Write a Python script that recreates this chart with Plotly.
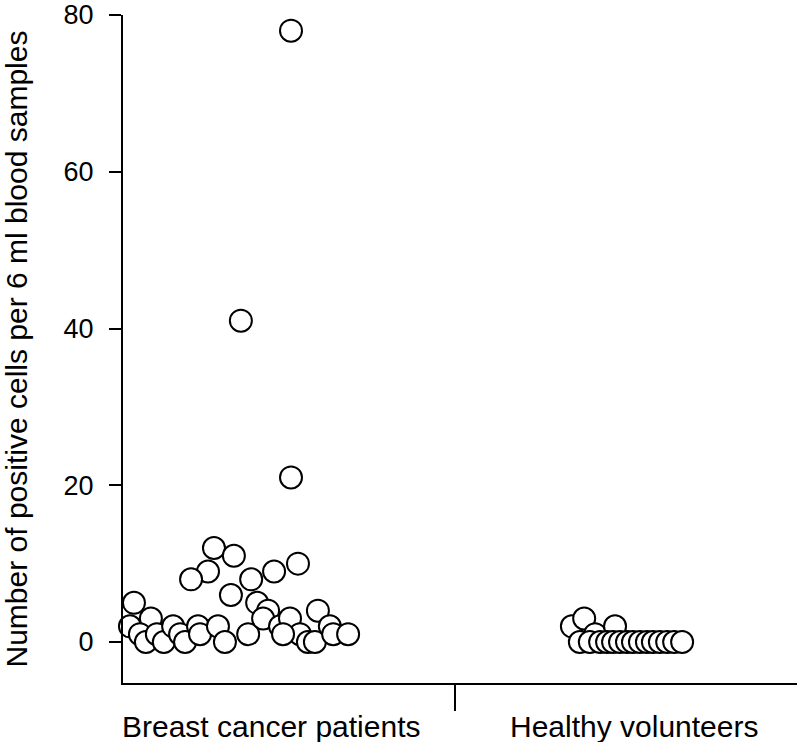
import plotly.graph_objects as go

# Data (x = horizontal jitter position on a 0..2 scale, y = cell counts)
categories = ["Breast cancer patients", "Healthy volunteers"]
category_pos = [0.446, 1.539]

breast_x = [0.506, 0.355, 0.506, 0.274, 0.334, 0.527, 0.256, 0.455, 0.205, 0.386,
            0.325, 0.404, 0.033, 0.437, 0.587, 0.021, 0.084, 0.051, 0.069, 0.102,
            0.123, 0.151, 0.172, 0.187, 0.226, 0.232, 0.286, 0.307, 0.377, 0.422,
            0.473, 0.503, 0.533, 0.557, 0.578, 0.623, 0.633, 0.678, 0.482]
breast_y = [78, 41, 21, 12, 11, 10, 9, 9, 8, 8,
            6, 5, 5, 4, 4, 2, 3, 1, 0, 1,
            0, 2, 1, 0, 2, 1, 2, 0, 1, 3,
            2, 3, 1, 0, 0, 2, 1, 1, 1]

healthy_x = [1.352, 1.389, 1.422, 1.482,
             1.376, 1.406, 1.437, 1.458, 1.476, 1.497, 1.518, 1.536, 1.557,
             1.578, 1.596, 1.617, 1.639, 1.660, 1.684]
healthy_y = [2, 3, 1, 2,
             0, 0, 0, 0, 0, 0, 0, 0, 0,
             0, 0, 0, 0, 0, 0]

y_ticks = [0, 20, 40, 60, 80]

FONT = "Liberation Sans, Arial, Helvetica, sans-serif"
marker = dict(size=22, color="white", line=dict(color="black", width=2), symbol="circle")

fig = go.Figure()
fig.add_trace(go.Scatter(x=breast_x, y=breast_y, mode="markers", marker=marker,
                         name=categories[0], showlegend=False, cliponaxis=False))
fig.add_trace(go.Scatter(x=healthy_x, y=healthy_y, mode="markers", marker=marker,
                         name=categories[1], showlegend=False, cliponaxis=False))

for pos, label in zip(category_pos, categories):
    fig.add_annotation(x=pos, y=0, xref="x", yref="paper", text=label, showarrow=False,
                       yanchor="middle", yshift=-43,
                       font=dict(family=FONT, size=30, color="black"))

fig.update_layout(
    width=798, height=742,
    margin=dict(l=123, r=1, t=15, b=59),
    plot_bgcolor="white", paper_bgcolor="white",
    font=dict(family=FONT, size=27, color="black"),
    xaxis=dict(range=[0, 2.03], showgrid=False, zeroline=False, showline=True,
               linecolor="black", linewidth=2, tickvals=[1], ticktext=[""],
               ticks="outside", ticklen=26, tickwidth=2, tickcolor="black",
               automargin=False),
    yaxis=dict(range=[-5.23, 80], showgrid=False, zeroline=False, showline=True,
               linecolor="black", linewidth=2, tickvals=y_ticks,
               ticks="outside", ticklen=12, tickwidth=2, tickcolor="black",
               ticklabelstandoff=10, automargin=False,
               tickfont=dict(size=27),
               title=dict(text="Number of positive cells per 6 ml blood samples",
                          font=dict(size=30), standoff=30)),
)

fig.write_html("out.html", config={"displayModeBar": False},
               post_script="document.body.style.margin='0px';")
